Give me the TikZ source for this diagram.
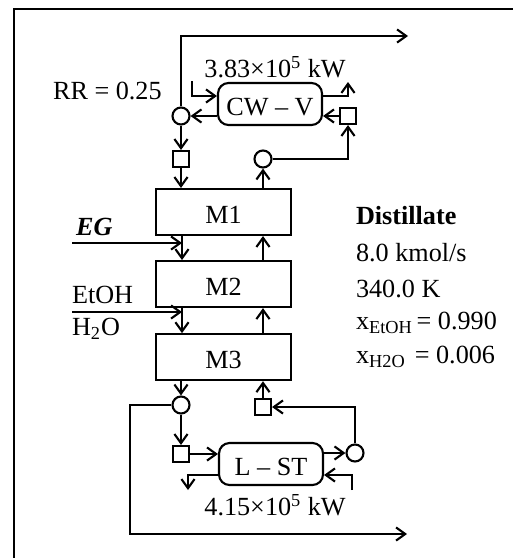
\documentclass[tikz,border=0pt]{standalone}
\usepackage{fontspec}
\setmainfont{Liberation Serif}
\usetikzlibrary{positioning, arrows.meta}

\begin{document}
\begin{tikzpicture}[
    x=0.02cm, y=-0.02cm,
    line width=1.2pt,
    font=\fontsize{14.9}{18}\selectfont,
    arrow/.style = {-{Straight Barb[length=5.2pt, width=7.5pt, line width=1.2pt]}},
    column/.style = {draw, rectangle, minimum width=2.7cm, minimum height=0.92cm, inner sep=0pt, text height=13.5pt},
    exchanger/.style = {draw, rectangle, minimum width=2.08cm, minimum height=0.84cm, inner sep=0pt, rounded corners=6pt, text height=13pt},
    splitter/.style = {draw, circle, minimum size=0.34cm, inner sep=0pt},
    pump/.style = {draw, rectangle, minimum size=0.32cm, inner sep=0pt},
    tag/.style = {anchor=west, inner sep=0pt}
  ]

  % ================= FRAME =================
  \useasboundingbox (0,0) rectangle (513,558);
  \coordinate (frame-low) at (14,558);
  \coordinate (frame-corner) at (14,9);
  \coordinate (frame-right) at (513,9);
  \draw (frame-low) -- (frame-corner) -- (frame-right);

  % ================= COLUMN =================
  \node[column] (m1) at (223.5,212) {M1};
  \node[column, below=0.48cm of m1] (m2) {M2};
  \node[column, below=0.5cm of m2] (m3) {M3};

  % ================= CONDENSER =================
  \node[exchanger] (cwv) at (270,104) {CW -- V};
  \node[splitter] (reflux) at (181,116) {};
  \node[pump] (refluxpump) at (181,159) {};
  \node[splitter] (vapor) at (263,159) {};
  \node[pump] (vaporpump) at (348,116) {};
  \coordinate (cw-in) at (192,81);
  \coordinate (cw-turn) at (192,96);
  \coordinate (cw-out) at (348,82);
  \coordinate (top-turn) at (181,36);
  \coordinate (top-end) at (408,36);

  \draw[arrow] (vapor.east) -| (vaporpump.south);
  \draw[arrow] (m1.north -| vapor) -- (vapor.south);
  \draw[arrow] (vaporpump.west) -- (cwv.east |- vaporpump);
  \draw[arrow] (cwv.west |- reflux) -- (reflux.east);
  \draw[arrow] (reflux.south) -- (refluxpump.north);
  \draw[arrow] (refluxpump.south) -- (m1.north -| refluxpump);
  \draw[arrow] (reflux.north) -- (top-turn) -- (top-end);
  \draw[arrow] (cw-in) -- (cw-turn) -- (cwv.west |- cw-turn);
  \draw[arrow] (cwv.east |- cw-turn) -| (cw-out);

  % ================= FEEDS =================
  \coordinate (eg-in) at (72,243);
  \coordinate (eg-end) at (182,243);
  \coordinate (feed-in) at (72,312);
  \coordinate (feed-end) at (182,312);
  \draw[arrow] (eg-in) -- (eg-end);
  \draw[arrow] (feed-in) -- (feed-end);
  \draw[arrow] (m1.south -| eg-end) -- (m2.north -| eg-end);
  \draw[arrow] (m2.south -| feed-end) -- (m3.north -| feed-end);
  \draw[arrow] (m2.north -| vapor) -- (m1.south -| vapor);
  \draw[arrow] (m3.north -| vapor) -- (m2.south -| vapor);

  % ================= REBOILER =================
  \node[exchanger] (lst) at (271,464) {L -- ST};
  \node[splitter] (bottom) at (181,405) {};
  \node[pump] (bottompump) at (181,454) {};
  \node[splitter] (boil) at (355,453) {};
  \node[pump] (boilpump) at (263,407) {};
  \coordinate (st-in) at (352,490);
  \coordinate (st-turn) at (352,475);
  \coordinate (st-out) at (188,490);
  \coordinate (bot-turn) at (130,405);
  \coordinate (bot-corner) at (130,534);
  \coordinate (bot-end) at (407,534);

  \draw[arrow] (m3.south -| bottom) -- (bottom.north);
  \draw[arrow] (bottom.south) -- (bottompump.north);
  \draw[arrow] (bottompump.east) -- (lst.west |- bottompump);
  \draw[arrow] (lst.east |- boil) -- (boil.west);
  \draw[arrow] (boil.north) |- (boilpump.east);
  \draw[arrow] (boilpump.north) -- (m3.south -| boilpump);
  \draw[arrow] (bottom.west) -- (bot-turn) -- (bot-corner) -- (bot-end);
  \draw[arrow] (st-in) -- (st-turn) -- (lst.east |- st-turn);
  \draw[arrow] (lst.west |- st-turn) -| (st-out);

  % ================= LABELS =================
  \node (cwduty) at (275,67) {3.83×10\textsuperscript{5} kW};
  \node (lstduty) at (275,505) {4.15×10\textsuperscript{5} kW};
  \node[tag] (rr) at (52,91) {RR = 0.25};
  \node[tag] (eg) at (75,227) {\textbf{\textit{EG}}};
  \node[tag] (etoh) at (71,295) {EtOH};
  \node[tag] (water) at (71,329) {H\textsubscript{2}O};
  \node[tag] (distillate) at (355,216) {\textbf{Distillate}};
  \node[tag] (flow) at (355,253) {8.0 kmol/s};
  \node[tag] (temp) at (355,289) {340.0 K};
  \node[tag] (xetoh) at (355,323) {x\textsubscript{EtOH}\hspace{-1.5pt} = 0.990};
  \node[tag] (xwater) at (355,357) {x\textsubscript{H2O}\hspace{1.5pt} = 0.006};
\end{tikzpicture}
\end{document}
